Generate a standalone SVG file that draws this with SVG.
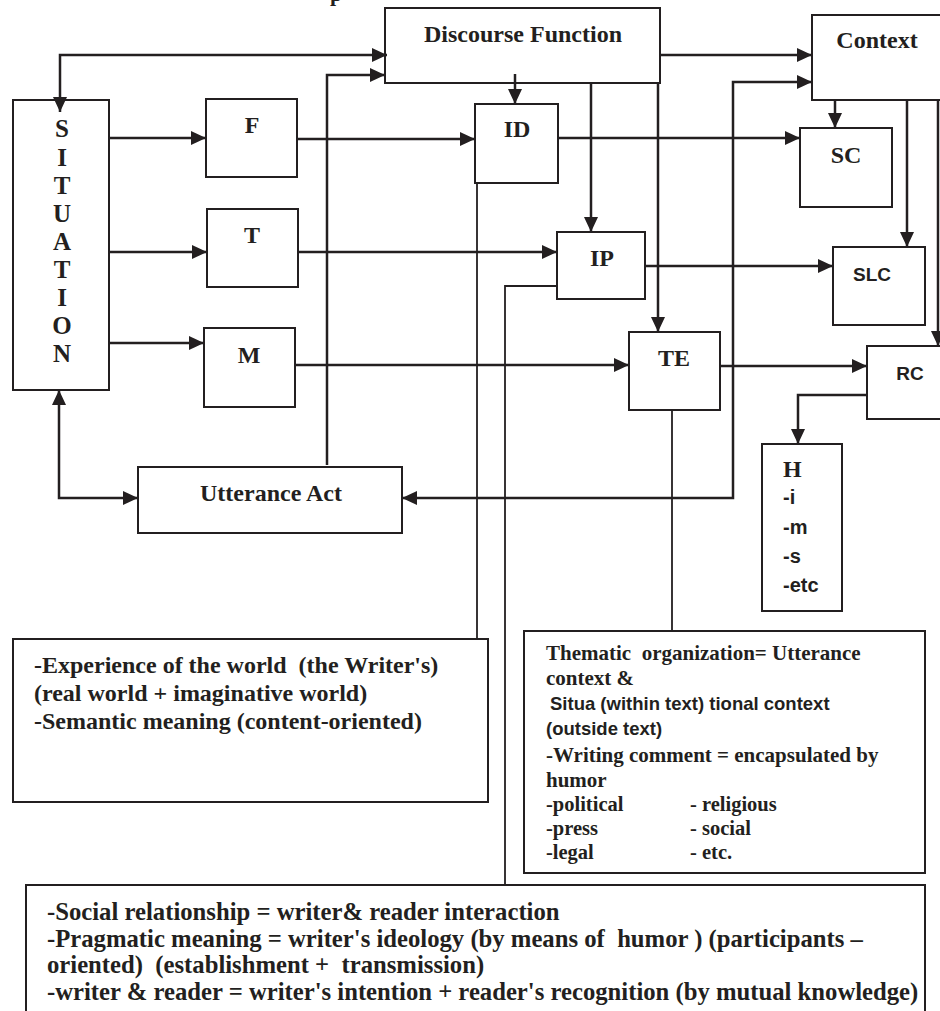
<svg xmlns="http://www.w3.org/2000/svg" width="940" height="1011" viewBox="0 0 940 1011">
<style>
.box{fill:#fff;stroke:#231f20;stroke-width:2}
.lbl{font-family:"Liberation Serif","Times New Roman",serif;font-weight:bold;fill:#231f20;white-space:pre}
.sans{font-family:"Liberation Sans",Arial,sans-serif;font-weight:bold;fill:#231f20;white-space:pre}
.c{fill:none;stroke:#231f20;stroke-width:2.5}
.t{fill:none;stroke:#231f20;stroke-width:1.8}
</style>
<defs>
<marker id="ah" viewBox="0 0 15 14" refX="15" refY="7" markerWidth="15" markerHeight="14" markerUnits="userSpaceOnUse" orient="auto-start-reverse">
<path d="M0,0 L15,7 L0,14 z" fill="#231f20"/>
</marker>
</defs>
<rect width="940" height="1011" fill="#fff"/>
<text class="lbl" x="330" y="1" font-size="22" font-weight="normal">p</text>

<g id="discourse">
<rect class="box" x="385" y="8" width="275" height="75"/>
<text class="lbl" x="523" y="42" font-size="24" text-anchor="middle">Discourse Function</text>
</g>
<g id="context">
<rect class="box" x="812" y="15" width="140" height="85"/>
<text class="lbl" x="877" y="48" font-size="24" text-anchor="middle">Context</text>
</g>
<g id="situation">
<rect class="box" x="13" y="100" width="96" height="290"/>
<g class="lbl" font-size="25" text-anchor="middle">
<text x="62" y="137">S</text>
<text x="62" y="166">I</text>
<text x="62" y="194">T</text>
<text x="62" y="222">U</text>
<text x="62" y="250">A</text>
<text x="62" y="278">T</text>
<text x="62" y="306">I</text>
<text x="62" y="334">O</text>
<text x="62" y="362">N</text>
</g>
</g>
<g id="f">
<rect class="box" x="206" y="99" width="91" height="78"/>
<text class="lbl" x="252" y="133" font-size="24" text-anchor="middle">F</text>
</g>
<g id="t">
<rect class="box" x="207" y="209" width="91" height="78"/>
<text class="lbl" x="252" y="243" font-size="24" text-anchor="middle">T</text>
</g>
<g id="m">
<rect class="box" x="204" y="328" width="91" height="79"/>
<text class="lbl" x="249" y="363" font-size="24" text-anchor="middle">M</text>
</g>
<g id="id">
<rect class="box" x="475" y="104" width="83" height="79"/>
<text class="lbl" x="517" y="137" font-size="24" text-anchor="middle">ID</text>
</g>
<g id="ip">
<rect class="box" x="557" y="232" width="88" height="67"/>
<text class="lbl" x="602" y="266" font-size="24" text-anchor="middle">IP</text>
</g>
<g id="te">
<rect class="box" x="629" y="332" width="91" height="78"/>
<text class="lbl" x="674" y="366" font-size="24" text-anchor="middle">TE</text>
</g>
<g id="sc">
<rect class="box" x="800" y="128" width="92" height="79"/>
<text class="lbl" x="846" y="163" font-size="24" text-anchor="middle">SC</text>
</g>
<g id="slc">
<rect class="box" x="833" y="247" width="92" height="78"/>
<text class="sans" x="872" y="281" font-size="19" text-anchor="middle">SLC</text>
</g>
<g id="rc">
<rect class="box" x="867" y="346" width="85" height="73"/>
<text class="sans" x="910" y="380" font-size="19" text-anchor="middle">RC</text>
</g>
<g id="h">
<rect class="box" x="762" y="444" width="80" height="167"/>
<text class="lbl" x="783" y="477" font-size="24">H</text>
<text class="sans" x="783" y="504" font-size="20">-i</text>
<text class="sans" x="783" y="534" font-size="20">-m</text>
<text class="sans" x="783" y="563" font-size="20">-s</text>
<text class="sans" x="783" y="592" font-size="20">-etc</text>
</g>
<g id="utterance">
<rect class="box" x="138" y="467" width="264" height="66"/>
<text class="lbl" x="271" y="501" font-size="24" text-anchor="middle">Utterance Act</text>
</g>
<g id="experience">
<rect class="box" x="13" y="639" width="475" height="163"/>
<text class="lbl" x="34" y="673" font-size="24">-Experience of the world  (the Writer's)</text>
<text class="lbl" x="34" y="701" font-size="24">(real world + imaginative world)</text>
<text class="lbl" x="34" y="729" font-size="24">-Semantic meaning (content-oriented)</text>
</g>
<g id="thematic">
<rect class="box" x="524" y="631" width="401" height="242"/>
<text class="lbl" x="546" y="660" font-size="21">Thematic  organization= Utterance</text>
<text class="lbl" x="546" y="685" font-size="21">context &amp;</text>
<text class="sans" x="550" y="710" font-size="18.5">Situa (within text) tional context</text>
<text class="sans" x="546" y="735" font-size="18.5">(outside text)</text>
<text class="lbl" x="546" y="762" font-size="21">-Writing comment = encapsulated by</text>
<text class="lbl" x="546" y="787" font-size="21">humor</text>
<text class="lbl" x="546" y="811" font-size="20.5">-political</text>
<text class="lbl" x="690" y="811" font-size="20.5">- religious</text>
<text class="lbl" x="546" y="835" font-size="20.5">-press</text>
<text class="lbl" x="690" y="835" font-size="20.5">- social</text>
<text class="lbl" x="546" y="859" font-size="20.5">-legal</text>
<text class="lbl" x="690" y="859" font-size="20.5">- etc.</text>
</g>
<g id="social">
<rect class="box" x="26" y="885" width="899" height="140"/>
<text class="lbl" x="47" y="920" font-size="24.7">-Social relationship = writer&amp; reader interaction</text>
<text class="lbl" x="47" y="947" font-size="24.7">-Pragmatic meaning = writer's ideology (by means of  humor ) (participants –</text>
<text class="lbl" x="47" y="973" font-size="24.7">oriented)  (establishment +  transmission)</text>
<text class="lbl" x="47" y="1000" font-size="24.7">-writer &amp; reader = writer's intention + reader's recognition (by mutual knowledge)</text>
</g>

<g id="connectors">
<path class="c" d="M60,112 V55 H387" marker-start="url(#ah)" marker-end="url(#ah)"/>
<path class="c" d="M327,465 V75 H385" marker-end="url(#ah)"/>
<path class="c" d="M108,138 H206" marker-end="url(#ah)"/>
<path class="c" d="M108,252 H207" marker-end="url(#ah)"/>
<path class="c" d="M108,343 H204" marker-end="url(#ah)"/>
<path class="c" d="M297,139 H475" marker-end="url(#ah)"/>
<path class="c" d="M298,252 H557" marker-end="url(#ah)"/>
<path class="c" d="M295,365 H629" marker-end="url(#ah)"/>
<path class="c" d="M515,74 V104" marker-end="url(#ah)"/>
<path class="c" d="M591,83 V232" marker-end="url(#ah)"/>
<path class="c" d="M658,83 V332" marker-end="url(#ah)"/>
<path class="c" d="M660,55 H812" marker-end="url(#ah)"/>
<path class="c" d="M402,498 H733 V82 H812" marker-start="url(#ah)" marker-end="url(#ah)"/>
<path class="c" d="M59,390 V498 H138" marker-start="url(#ah)" marker-end="url(#ah)"/>
<path class="c" d="M558,138 H800" marker-end="url(#ah)"/>
<path class="c" d="M645,266 H833" marker-end="url(#ah)"/>
<path class="c" d="M720,366 H867" marker-end="url(#ah)"/>
<path class="c" d="M835,100 V128" marker-end="url(#ah)"/>
<path class="c" d="M907,100 V247" marker-end="url(#ah)"/>
<path class="c" d="M938,100 V346" marker-end="url(#ah)"/>
<path class="c" d="M867,395 H798 V444" marker-end="url(#ah)"/>
<path class="t" d="M477,183 V639"/>
<path class="t" d="M557,286 H505 V885"/>
<path class="t" d="M672,410 V631"/>
</g>
</svg>
